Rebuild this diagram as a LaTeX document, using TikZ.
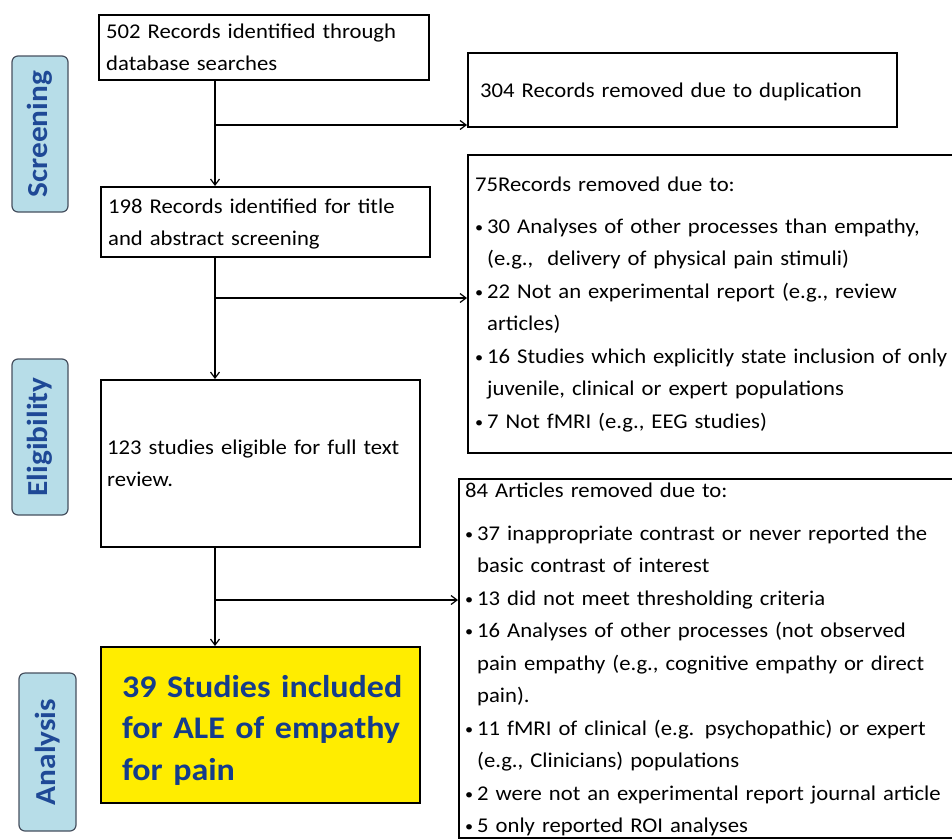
\documentclass[tikz,border=0pt]{standalone}
\usepackage{fontspec}
\setmainfont{Carlito}[FakeStretch=1.08]
\usetikzlibrary{arrows.meta,calc}
\definecolor{labfill}{RGB}{183,221,232}
\definecolor{labdraw}{RGB}{70,80,95}
\definecolor{labtext}{RGB}{31,73,150}
\definecolor{yel}{RGB}{255,237,0}
\definecolor{yeltext}{RGB}{20,60,140}
\tikzset{
  flowbox/.style={draw=black, line width=2.4pt, rectangle, inner sep=0pt, anchor=north west},
  stagelabel/.style={draw=labdraw, fill=labfill, line width=1.2pt, rounded corners=6pt,
    rotate=90, inner sep=0pt, text=labtext, font=\fontsize{29}{30}\selectfont\bfseries},
  boxtext/.style={anchor=base west, inner sep=0pt, align=left, text width=560pt,
    font=\fontsize{21}{32.5}\selectfont},
  bigtext/.style={anchor=base west, inner sep=0pt, align=left, text=yeltext, text width=400pt,
    font=\fontsize{31.5}{41.5}\selectfont\bfseries},
  conn/.style={line width=1.4pt, -{Straight Barb[length=6pt,width=9pt,line width=1.2pt]}},
}
\newcommand\bul{\makebox[12pt][l]{\raisebox{0.8pt}{\fontsize{15}{15}\selectfont •}}}
\newcommand\ind{\hspace*{12pt}}
\hyphenpenalty=10000
\exhyphenpenalty=10000
\begin{document}
\begin{tikzpicture}[x=1pt,y=-1pt]
\useasboundingbox (0,0) rectangle (952,838);
\clip (0,0) rectangle (952,838);

% stage labels
\node[stagelabel, minimum width=156pt, minimum height=56pt] (lscr) at (40,134) {Screening};
\node[stagelabel, minimum width=156pt, minimum height=56pt] (lelig) at (40,437) {Eligibility};
\node[stagelabel, minimum width=158pt, minimum height=57pt] (lana) at (47.5,752) {Analysis};

% boxes
\node[flowbox, minimum width=330pt, minimum height=65pt] (b502) at (98,14) {};
\node[flowbox, minimum width=429pt, minimum height=74pt] (b304) at (467,52) {};
\node[flowbox, minimum width=329pt, minimum height=70pt] (b198) at (100,186) {};
\node[flowbox, minimum width=500pt, minimum height=298pt] (b75) at (467,154) {};
\node[flowbox, minimum width=319pt, minimum height=167pt] (b123) at (100,379) {};
\node[flowbox, minimum width=500pt, minimum height=359pt] (b84) at (458,478) {};
\node[flowbox, fill=yel, minimum width=319pt, minimum height=156pt] (byel) at (100,646) {};

% texts
\node[boxtext] (t502) at (106,38) {502 Records identified through\\database searches};
\node[boxtext] (t304) at (480,97) {304 Records removed due to duplication};
\node[boxtext] (t198) at (108,213) {198 Records identified for title\\and abstract screening};
\node[boxtext] (t75) at (475,191) {75Records removed due to:\\[9.5pt]
\bul 30 Analyses of other processes than empathy,\\
\ind (e.g.,\ \ delivery of physical pain stimuli)\\
\bul 22 Not an experimental report (e.g., review\\
\ind articles)\\
\bul 16 Studies which explicitly state inclusion of only\\
\ind juvenile, clinical or expert populations\\
\bul 7 Not fMRI (e.g., EEG studies)};
\node[boxtext] (t123) at (107,454) {123 studies eligible for full text\\review.};
\node[boxtext] (t84) at (465,497) {84 Articles removed due to:\\[10.5pt]
\bul 37 inappropriate contrast or never reported the\\
\ind basic contrast of interest\\
\bul 13 did not meet thresholding criteria\\
\bul 16 Analyses of other processes (not observed\\
\ind pain empathy (e.g., cognitive empathy or direct\\
\ind pain).\\
\bul 11 fMRI of clinical (e.g. psychopathic) or expert\\
\ind (e.g., Clinicians) populations\\
\bul 2 were not an experimental report journal article\\
\bul 5 only reported ROI analyses};
\node[bigtext] (tyel) at (122,697) {39 Studies included\\for ALE of empathy\\for pain};

% connectors
\coordinate (s1) at (215,125);
\coordinate (s2) at (215,298);
\coordinate (s3) at (215,600);
\draw[conn] (b502.south -| s1) -- (b198.north -| s1);
\draw[conn] (s1) -- (s1 -| b304.west);
\draw[conn] (b198.south -| s2) -- (b123.north -| s2);
\draw[conn] (s2) -- (s2 -| b75.west);
\draw[conn] (b123.south -| s3) -- (byel.north -| s3);
\draw[conn] (s3) -- (s3 -| b84.west);
\end{tikzpicture}
\end{document}
